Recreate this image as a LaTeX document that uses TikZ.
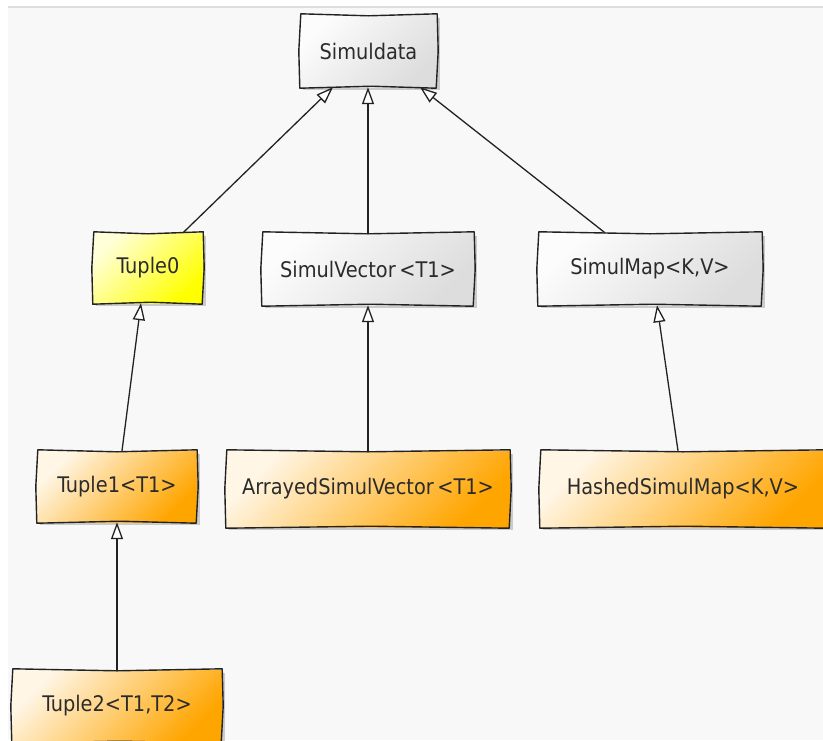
\documentclass[tikz,border=0pt]{standalone}
\usepackage{fontspec}
\setmainfont{DejaVu Sans Condensed}
\usetikzlibrary{arrows.meta,shadows}
\definecolor{txt}{HTML}{2B2B2B}
\definecolor{ink}{HTML}{222222}
\definecolor{bg}{HTML}{F8F8F8}
\definecolor{topline}{HTML}{DDDDDD}
\definecolor{grayA}{HTML}{FCFCFC}
\definecolor{grayB}{HTML}{DDDDDD}
\definecolor{orA}{HTML}{FFF6E6}
\definecolor{orB}{HTML}{FFA500}
\definecolor{yeA}{HTML}{FFFFD8}
\definecolor{yeB}{HTML}{FFFF00}
\tikzset{
  cls/.style={rectangle, inner sep=0pt, text=txt,
    font=\fontsize{21.5}{25}\selectfont,
    drop shadow={shadow xshift=3pt, shadow yshift=-3pt, opacity=.18, fill=black}},
  graycls/.style={cls, top color=grayA, bottom color=grayB, shading angle=45},
  orangecls/.style={cls, top color=orA, bottom color=orB, shading angle=45},
  yellowcls/.style={cls, top color=yeA, bottom color=yeB, shading angle=45},
  boxline/.style={draw=ink, line width=1.4pt, line join=round},
  inh/.style={draw=ink, line width=1.3pt,
    -{Triangle[length=17pt, width=12pt, fill=white]}}
}
\begin{document}
\begin{tikzpicture}[x=1pt, y=-1pt]
  \useasboundingbox (0,0) rectangle (823,740);
  \clip (0,0) rectangle (823,740);
  \fill[white] (0,0) rectangle (823,740);
  \fill[bg] (8,8) rectangle (823,740);
  \draw[topline, line width=2pt] (8,6.5) -- (823,6.5);

  \node[graycls, minimum width=137pt, minimum height=72pt] (sim) at (368.5,51) {Simuldata};
  \node[yellowcls, minimum width=110pt, minimum height=70pt] (t0) at (148,268) {Tuple0};
  \node[graycls, minimum width=212pt, minimum height=72pt] (sv) at (368,269) {SimulVector\,<T1>};
  \node[graycls, minimum width=224pt, minimum height=72pt] (sm) at (650,269) {SimulMap<K,V>};
  \node[orangecls, minimum width=160pt, minimum height=71pt] (t1) at (117,486.5) {Tuple1<T1>};
  \node[orangecls, minimum width=284pt, minimum height=76pt] (asv) at (368,489) {ArrayedSimulVector\,<T1>};
  \node[orangecls, minimum width=286pt, minimum height=76pt] (hsm) at (683,489) {HashedSimulMap<K,V>};
  \node[orangecls, minimum width=210pt, minimum height=72pt] (t2) at (117,706) {Tuple2<T1,T2>};

  \foreach \n in {sim,t0,sv,sm,t1,asv,hsm,t2} {
    \draw[boxline]
      ([shift={(1,-1)}]\n.north west) -- ([shift={(0,1)}]\n.north)
      -- ([shift={(0,-1)}]\n.north east) -- ([shift={(1,0)}]\n.east)
      -- ([shift={(-1,1)}]\n.south east) -- ([shift={(3,-1)}]\n.south)
      -- ([shift={(0,1)}]\n.south west) -- ([shift={(-1,0)}]\n.west) -- cycle;
  }

  \draw[inh] ([xshift=35pt]t0.north) -- ([xshift=-35.5pt]sim.south);
  \draw[inh] (sv.north) -- (sim.south -| sv.north);
  \draw[inh] ([xshift=-45pt]sm.north) -- ([xshift=51.5pt]sim.south);
  \draw[inh] ([xshift=5pt]t1.north) -- ([xshift=-7pt]t0.south);
  \draw[inh] (asv.north) -- (sv.south -| asv.north);
  \draw[inh] ([xshift=-5pt]hsm.north) -- ([xshift=7pt]sm.south);
  \draw[inh] (t2.north) -- (t1.south -| t2.north);
\end{tikzpicture}
\end{document}
